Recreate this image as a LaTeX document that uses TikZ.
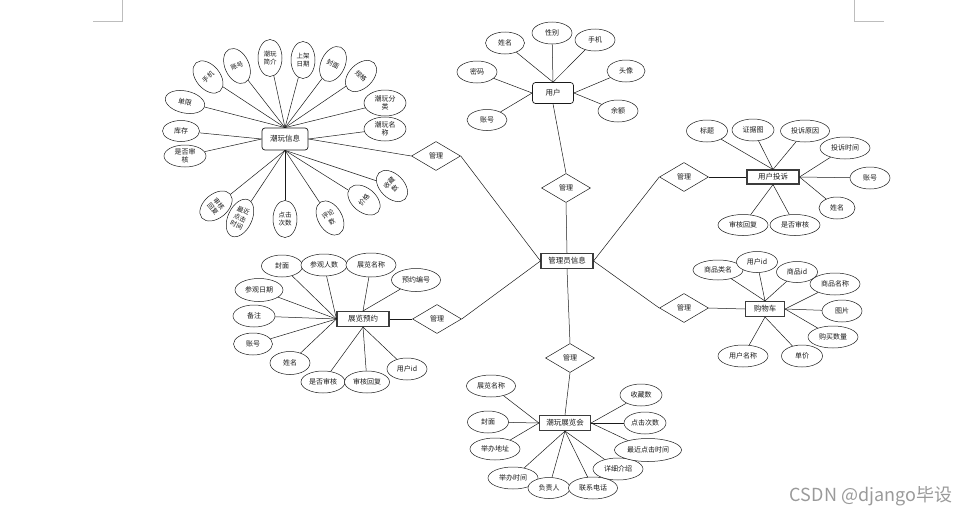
\documentclass[tikz,border=0pt]{standalone}
\usepackage{fontspec}
\usepackage{xcolor}
\usepackage{tikz}
\usetikzlibrary{shapes.geometric}
\newfontfamily\cjk{Noto Sans CJK SC}
\definecolor{EInk}{HTML}{1A1A1A}
\definecolor{EEdge}{HTML}{3C3C3C}
\definecolor{EMark}{HTML}{BDBDBD}
\definecolor{EWater}{HTML}{9A9A9A}

\begin{document}
\begin{tikzpicture}[x=1pt,y=-1pt,
  ent/.style={draw=EEdge,line width=1.1pt,minimum width=52,minimum height=15,
    inner sep=1pt,text=EInk,font=\cjk\fontsize{7.5}{8.5}\selectfont},
  rent/.style={draw=EInk,rounded corners=3pt,line width=0.7pt,inner sep=1pt,
    text=EInk,font=\cjk\fontsize{7.5}{8.5}\selectfont},
  attrib/.style={draw=EInk,ellipse,fill=white,inner sep=0pt,line width=0.5pt,
    minimum width=40,minimum height=22,align=center,text=EInk,
    font=\cjk\fontsize{7}{8.5}\selectfont},
  tall/.style={attrib,minimum width=24,minimum height=37,
    font=\cjk\fontsize{6.5}{8}\selectfont},
  rel/.style={draw=EInk,diamond,fill=white,inner sep=0pt,line width=0.5pt,
    minimum width=49,minimum height=29,text=EInk,
    font=\cjk\fontsize{7}{8}\selectfont},
  ln/.style={draw=EInk,line width=0.5pt}
]
  \useasboundingbox (0,0) rectangle (962,514);
  \draw[EMark,line width=0.6pt] (122,0) -- (122,21) -- (93,21);
  \draw[EMark,line width=0.6pt] (854,0) -- (854,21) -- (884,21);

  \node[ent] (adm) at (567,261) {管理员信息};
  \node[rent,minimum width=46,minimum height=22] (toy) at (285,139) {潮玩信息};
  \node[rent,minimum width=41,minimum height=21] (usr) at (553,93) {用户};
  \node[ent,minimum height=14] (cmp) at (773,177) {用户投诉};
  \node[ent,minimum width=39] (cart) at (765,309) {购物车};
  \node[ent] (bk) at (363,319) {展览预约};
  \node[ent,minimum width=51] (expo) at (565,423) {潮玩展览会};

  \node[rel] (r1) at (436,156) {管理};
  \node[rel] (r2) at (566,188) {管理};
  \node[rel] (r3) at (684,177) {管理};
  \node[rel] (r4) at (684,308) {管理};
  \node[rel] (r5) at (437,319) {管理};
  \node[rel] (r6) at (570,358) {管理};

  \draw[ln] (toy.east) -- (r1.west);
  \draw[ln] (r1.east) -- (adm.west);
  \draw[ln] (usr.south) -- (r2.north);
  \draw[ln] (r2.south) -- (adm.north);
  \draw[ln] (adm.east) -- (r3.west);
  \draw[ln] (r3.east) -- (cmp.west);
  \draw[ln] (adm.east) -- (r4.west);
  \draw[ln] (r4.east) -- (cart.west);
  \draw[ln] (bk.east) -- (r5.west);
  \draw[ln] (r5.east) -- (adm.west);
  \draw[ln] (adm.south) -- (r6.north);
  \draw[ln] (r6.south) -- (expo.north);

  \node[tall,rotate=40] (t1) at (208,77) {手机};
  \node[tall,rotate=25] (t2) at (237,66) {账号};
  \node[tall] (t3) at (270,58) {潮玩\\简介};
  \node[tall] (t4) at (303,60) {上架\\日期};
  \node[tall,rotate=-25] (t5) at (333,64) {封面};
  \node[tall,rotate=-45] (t6) at (361,76) {规格};
  \node[attrib,minimum width=42,minimum height=26] (t7) at (385,103) {潮玩分\\类};
  \node[attrib,minimum width=42,minimum height=24] (t8) at (385,129) {潮玩名\\称};
  \node[attrib,rotate=-12] (t9) at (185,102) {单限};
  \node[attrib,minimum width=37,minimum height=21] (t10) at (181,131) {库存};
  \node[attrib,minimum width=42] (t11) at (185,156) {是否审\\核};
  \node[tall,rotate=-50] (t12) at (216,206) {审核\\回复};
  \node[tall,minimum height=40,rotate=-25] (t13) at (240,218) {最近\\点击\\时间};
  \node[tall] (t14) at (285,219) {点击\\次数};
  \node[tall,rotate=30] (t15) at (330,218) {评论\\数};
  \node[tall,rotate=50] (t16) at (364,200) {价格};
  \node[tall,rotate=45] (t17) at (392,186) {收藏\\数};
  \foreach \a in {t1,t2,t3,t4,t5,t6,t7,t9}
    \draw[ln] (\a) -- (toy.north);
  \draw[ln] (t8) -- (toy.east);
  \foreach \a in {t10,t11}
    \draw[ln] (\a) -- (toy.west);
  \foreach \a in {t12,t13,t14,t15,t16,t17}
    \draw[ln] (\a) -- (toy.south);

  \node[attrib,minimum width=39] (u1) at (505,43) {姓名};
  \node[attrib] (u2) at (552,33) {性别};
  \node[attrib] (u3) at (595,40) {手机};
  \node[attrib,minimum width=38] (u4) at (626,71) {头像};
  \node[attrib] (u5) at (618,111) {余额};
  \node[attrib] (u6) at (477,72) {密码};
  \node[attrib,minimum height=21] (u7) at (487,120) {账号};
  \foreach \a in {u1,u2,u3}
    \draw[ln] (\a) -- (usr.north);
  \foreach \a in {u4,u5}
    \draw[ln] (\a) -- (usr.east);
  \foreach \a in {u6,u7}
    \draw[ln] (\a) -- (usr.west);

  \node[attrib,minimum width=41] (c1) at (707,131) {标题};
  \node[attrib,minimum width=42] (c2) at (753,130) {证据图};
  \node[attrib,minimum width=49] (c3) at (805,131) {投诉原因};
  \node[attrib,minimum width=50] (c4) at (845,148) {投诉时间};
  \node[attrib] (c5) at (870,178) {账号};
  \node[attrib,minimum width=36] (c6) at (837,208) {姓名};
  \node[attrib,minimum width=50,minimum height=21] (c7) at (743,225) {审核回复};
  \node[attrib,minimum width=50,minimum height=21] (c8) at (795,225) {是否审核};
  \foreach \a in {c1,c2,c3}
    \draw[ln] (\a) -- (cmp.north);
  \foreach \a in {c4,c5,c6}
    \draw[ln] (\a) -- (cmp.east);
  \foreach \a in {c7,c8}
    \draw[ln] (\a) -- (cmp.south);

  \node[attrib,minimum width=50,minimum height=20] (k1) at (718,270) {商品类名};
  \node[attrib,minimum width=41,minimum height=21] (k2) at (757,262) {用户id};
  \node[attrib,minimum width=41,minimum height=21] (k3) at (797,272) {商品id};
  \node[attrib,minimum width=50] (k4) at (835,284) {商品名称};
  \node[attrib] (k5) at (842,311) {图片};
  \node[attrib,minimum width=50] (k6) at (833,337) {购买数量};
  \node[attrib,minimum width=41] (k7) at (802,356) {单价};
  \node[attrib,minimum width=50] (k8) at (743,356) {用户名称};
  \foreach \a in {k1,k2,k3}
    \draw[ln] (\a) -- (cart.north);
  \foreach \a in {k4,k5,k6}
    \draw[ln] (\a) -- (cart.east);
  \foreach \a in {k7,k8}
    \draw[ln] (\a) -- (cart.south);

  \node[attrib,minimum width=41] (b1) at (282,266) {封面};
  \node[attrib,minimum width=46] (b2) at (324,265) {参观人数};
  \node[attrib,minimum width=50,minimum height=24] (b3) at (371,265) {展览名称};
  \node[attrib,minimum width=49,minimum height=23] (b4) at (416,280) {预约编号};
  \node[attrib,minimum width=48,minimum height=23] (b5) at (259,290) {参观日期};
  \node[attrib,minimum width=42] (b6) at (254,316) {备注};
  \node[attrib,minimum width=39] (b7) at (253,344) {账号};
  \node[attrib,minimum height=23] (b8) at (290,363) {姓名};
  \node[attrib,minimum width=44] (b9) at (323,382) {是否审核};
  \node[attrib,minimum width=45] (b10) at (367,382) {审核回复};
  \node[attrib] (b11) at (407,369) {用户id};
  \foreach \a in {b1,b2,b5,b6,b7,b8}
    \draw[ln] (\a) -- (bk.west);
  \foreach \a in {b3,b4}
    \draw[ln] (\a) -- (bk.north);
  \foreach \a in {b9,b10,b11}
    \draw[ln] (\a) -- (bk.south);

  \node[attrib,minimum width=49] (e1) at (491,386) {展览名称};
  \node[attrib,minimum width=41] (e2) at (488,422) {封面};
  \node[attrib,minimum width=50] (e3) at (495,449) {举办地址};
  \node[attrib,minimum width=50] (e4) at (513,478) {举办时间};
  \node[attrib,minimum width=42,minimum height=21] (e5) at (549,488) {负责人};
  \node[attrib,minimum width=49] (e6) at (593,488) {联系电话};
  \node[attrib,minimum width=50] (e7) at (618,469) {详细介绍};
  \node[attrib,minimum width=67,minimum height=23] (e8) at (648,450) {最近点击时间};
  \node[attrib,minimum width=42] (e9) at (645,423) {点击次数};
  \node[attrib,minimum width=42] (e10) at (641,395) {收藏数};
  \foreach \a in {e1,e2,e3}
    \draw[ln] (\a) -- (expo.west);
  \foreach \a in {e4,e5,e6,e7}
    \draw[ln] (\a) -- (expo.south);
  \foreach \a in {e8,e9,e10}
    \draw[ln] (\a) -- (expo.east);

  \node[text=EWater,font=\cjk\fontsize{18}{18}\selectfont] (mark) at (871,496)
    {CSDN @django毕设};
\end{tikzpicture}
\end{document}
